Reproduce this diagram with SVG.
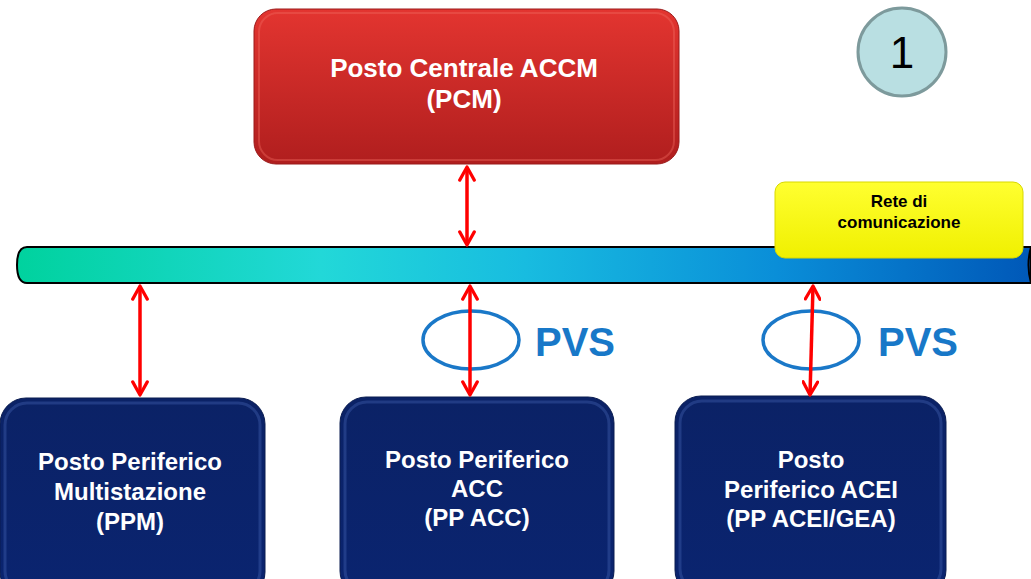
<svg xmlns="http://www.w3.org/2000/svg" width="1031" height="579" viewBox="0 0 1031 579">
<style>
.lbl{font-family:"Liberation Sans",Arial,sans-serif;font-weight:bold;text-anchor:middle}
.w{fill:#ffffff;font-size:24px}
.big{font-size:26px}
.small{font-size:17px;fill:#000000}
.conn{stroke:#ff0000;stroke-width:3.5;fill:none;marker-start:url(#ah);marker-end:url(#ah)}
.pvs{fill:none;stroke:#1a78c8;stroke-width:3.5}
.pvst{font-family:"Liberation Sans",Arial,sans-serif;font-weight:bold;font-size:40px;fill:#1878c8}
.navy{fill:url(#gNavy);stroke:#0a1c50;stroke-width:1}
.hl{fill:none;stroke:#3c5aa8;stroke-width:3;opacity:0.45}
</style>
<defs>
<linearGradient id="gRed" x1="0" y1="0" x2="0" y2="1">
<stop offset="0" stop-color="#e33530"/>
<stop offset="1" stop-color="#b01e1e"/>
</linearGradient>
<linearGradient id="gNavy" x1="0" y1="0" x2="0" y2="1">
<stop offset="0" stop-color="#0b2266"/>
<stop offset="1" stop-color="#0a2470"/>
</linearGradient>
<linearGradient id="gYel" x1="0" y1="0" x2="0" y2="1">
<stop offset="0" stop-color="#ffff30"/>
<stop offset="1" stop-color="#f0f000"/>
</linearGradient>
<linearGradient id="gBus" x1="0" y1="0" x2="1" y2="0">
<stop offset="0" stop-color="#00d29e"/>
<stop offset="0.3" stop-color="#22d8d8"/>
<stop offset="0.5" stop-color="#18bce0"/>
<stop offset="0.75" stop-color="#0a8ed8"/>
<stop offset="1" stop-color="#0058b8"/>
</linearGradient>
<marker id="ah" viewBox="0 0 12 12" refX="10.5" refY="6" markerWidth="5" markerHeight="5" orient="auto-start-reverse" markerUnits="strokeWidth">
<path d="M1.5,1 L10.5,6 L1.5,11" fill="none" stroke="#ff0000" stroke-width="2.2" stroke-linecap="round" stroke-linejoin="round"/>
</marker>
</defs>
<rect width="1031" height="579" fill="#ffffff"/>

<g id="bus">
<path d="M27,247 L1031,247 L1031,283 L27,283 Q17,283 17,265 Q17,247 27,247 Z" fill="url(#gBus)" stroke="#000000" stroke-width="2"/>
<path d="M1031,247 Q1026,265 1031,283" fill="none" stroke="#000000" stroke-width="2"/>
</g>

<g id="pcm">
<rect x="254" y="9" width="425" height="155" rx="22" fill="url(#gRed)" stroke="#9a1a1a" stroke-width="1"/>
<rect x="259" y="13" width="415" height="147" rx="19" fill="none" stroke="#f06a60" stroke-width="2" opacity="0.4"/>
<text class="lbl w big" x="464" y="77">Posto Centrale ACCM</text>
<text class="lbl w big" x="464" y="108">(PCM)</text>
</g>

<g id="badge">
<circle cx="902" cy="52" r="44" fill="#b9dfe2" stroke="#7d9a9c" stroke-width="3"/>
<text x="902" y="68" font-family="Liberation Sans,Arial,sans-serif" font-size="44" text-anchor="middle" fill="#000000">1</text>
</g>

<g id="rete">
<rect x="775" y="182" width="248" height="76" rx="10" fill="url(#gYel)" stroke="#d8d800" stroke-width="1"/>
<text class="lbl small" x="899" y="207">Rete di</text>
<text class="lbl small" x="899" y="228">comunicazione</text>
</g>

<g id="ppm">
<rect class="navy" x="0" y="398" width="265" height="200" rx="26"/>
<rect class="hl" x="5" y="403" width="255" height="190" rx="22"/>
<text class="lbl w" x="130" y="470">Posto Periferico</text>
<text class="lbl w" x="130" y="500">Multistazione</text>
<text class="lbl w" x="130" y="530">(PPM)</text>
</g>

<g id="ppacc">
<rect class="navy" x="340" y="397" width="274" height="200" rx="26"/>
<rect class="hl" x="345" y="402" width="264" height="190" rx="22"/>
<text class="lbl w" x="477" y="468">Posto Periferico</text>
<text class="lbl w" x="477" y="497">ACC</text>
<text class="lbl w" x="477" y="526">(PP ACC)</text>
</g>

<g id="ppacei">
<rect class="navy" x="675" y="396" width="271" height="200" rx="26"/>
<rect class="hl" x="680" y="401" width="261" height="190" rx="22"/>
<text class="lbl w" x="811" y="468">Posto</text>
<text class="lbl w" x="811" y="498">Periferico ACEI</text>
<text class="lbl w" x="811" y="527">(PP ACEI/GEA)</text>
</g>

<g id="pvs1">
<ellipse class="pvs" cx="471" cy="340" rx="48" ry="29"/>
<text class="pvst" x="535" y="356">PVS</text>
</g>
<g id="pvs2">
<ellipse class="pvs" cx="811" cy="340" rx="48" ry="29"/>
<text class="pvst" x="878" y="356">PVS</text>
</g>

<g id="connectors">
<line class="conn" x1="467" y1="167" x2="467" y2="245"/>
<line class="conn" x1="140" y1="286" x2="140" y2="395"/>
<line class="conn" x1="470" y1="286" x2="470" y2="395"/>
<line class="conn" x1="813" y1="286" x2="810" y2="395"/>
</g>
</svg>
